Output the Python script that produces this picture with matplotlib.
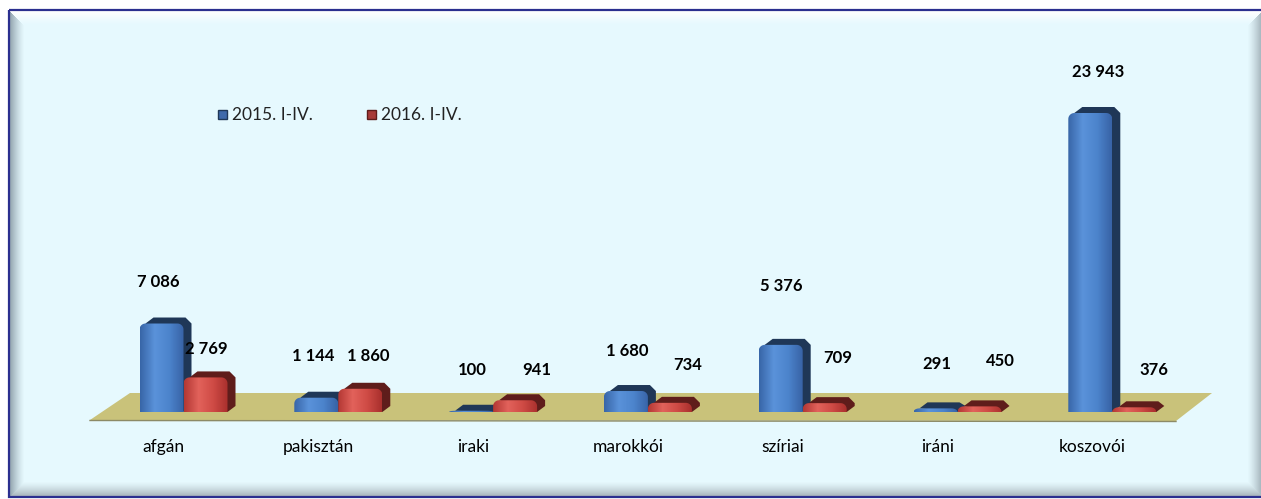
import numpy as np
import matplotlib.pyplot as plt
from matplotlib.patches import Polygon, Rectangle
from matplotlib.colors import LinearSegmentedColormap
from matplotlib.transforms import blended_transform_factory

plt.rcParams['font.family'] = ['Lato', 'DejaVu Sans']

categories = ['afgán', 'pakisztán', 'iraki', 'marokkói', 'szíriai', 'iráni', 'koszovói']
values_2015 = [7086, 1144, 100, 1680, 5376, 291, 23943]
values_2016 = [2769, 1860, 941, 734, 709, 450, 376]
series_names = ['2015. I-IV.', '2016. I-IV.']

# where the value labels sit (pixel coordinates on the canvas)
label_xy_2015 = [(158, 282), (313, 356), (472, 370), (627, 351), (781, 286), (937, 364), (1098, 72)]
label_xy_2016 = [(206, 349), (368, 356), (537, 370), (688, 365), (838, 358), (1000, 361), (1154, 370)]

W, H = 1261, 499
fig = plt.figure(figsize=(W / 100, H / 100), dpi=100)
fig.patch.set_facecolor('white')

# background canvas in pixel units
bg = fig.add_axes([0, 0, 1, 1])
bg.set_xlim(0, W)
bg.set_ylim(H, 0)
bg.axis('off')

# bevelled light cyan panel
x0p, y0p, x1p, y1p = 10, 11, 1262, 496
ny, nx = y1p - y0p, x1p - x0p
yy, xx = np.mgrid[0:ny, 0:nx]
d_top, d_bot = yy, ny - 1 - yy
d_left, d_right = xx, nx - 1 - xx
base = np.array([230, 249, 254]) / 255
img = np.tile(base, (ny, nx, 1))
bev = 14.0
edges = [(d_top, np.array([255, 255, 255]) / 255),
         (d_left, np.array([150, 168, 178]) / 255),
         (d_bot, np.array([170, 184, 190]) / 255),
         (d_right, np.array([165, 180, 188]) / 255)]
dist = np.stack([e[0] for e in edges])
nearest = dist.argmin(axis=0)
dmin = dist.min(axis=0)
k = np.clip(1 - dmin / bev, 0, 1) ** 1.3
for i, (_, col) in enumerate(edges):
    m = (nearest == i)[..., None]
    img = np.where(m, img * (1 - k[..., None]) + col * k[..., None], img)
bg.imshow(img, extent=[x0p, x1p, y1p, y0p], interpolation='bilinear', zorder=0)
bg.add_patch(Rectangle((x0p - 1, y0p - 1), nx + 2, ny + 2, fill=False,
                       edgecolor='#2B2F8F', lw=1.6, zorder=1))

# floor
floor = Polygon([(90, 420), (1176, 421), (1212, 393), (130, 393)], closed=True,
                facecolor='#C9C27A', edgecolor='none', zorder=2)
bg.add_patch(floor)
bg.plot([90, 1176], [420.5, 421.5], color='#8C8A66', lw=1.0, zorder=3)

# bar axes: category index on x, count on y
PX_X = 154.8
PX_Y = 299 / 23943
x_lo, x_hi = -0.5, 6.5
y_lo, y_hi = -1500, 28200
left_px = 183.5 + x_lo * PX_X
right_px = 183.5 + x_hi * PX_X
bot_px = 412 - y_lo * PX_Y
top_px = 412 - y_hi * PX_Y
ax = fig.add_axes([left_px / W, (H - bot_px) / H,
                   (right_px - left_px) / W, (bot_px - top_px) / H])
ax.set_facecolor('none')
ax.axis('off')

bw = 44 / PX_X
dx, dy = 8 / PX_X, 6 / PX_Y
rx, ry = 6 / PX_X, 6 / PX_Y

blue_cmap = LinearSegmentedColormap.from_list('b', ['#3866A8', '#5A92DA', '#4C84CC', '#3863A6'])
red_cmap = LinearSegmentedColormap.from_list('r', ['#B43834', '#E2625B', '#CF4B45', '#A9302D'])
grad = np.linspace(0, 1, 64).reshape(1, -1)


def draw_bar(x0, v, cmap, dark):
    r_y = min(ry, v)
    t = np.linspace(0, np.pi / 2, 10)
    left = [(x0 + rx - rx * np.cos(a), v - r_y + r_y * np.sin(a)) for a in t]
    right = [(x0 + bw - rx + rx * np.sin(a), v - r_y + r_y * np.cos(a)) for a in t]
    back = Polygon([(x0 + rx, v), (x0 + rx + dx, v + dy), (x0 + bw + dx - rx, v + dy),
                    (x0 + bw + dx, v + dy - r_y), (x0 + bw + dx, dy), (x0 + bw, 0)],
                   closed=True, facecolor=dark, edgecolor='none', zorder=3)
    ax.add_patch(back)
    front = Polygon([(x0, 0)] + left + right + [(x0 + bw, 0)], closed=True,
                    facecolor='none', edgecolor='none', zorder=4)
    ax.add_patch(front)
    im = ax.imshow(grad, cmap=cmap, extent=[x0, x0 + bw, 0, v], aspect='auto',
                   interpolation='bilinear', zorder=4)
    im.set_clip_path(front)


for i in range(len(categories)):
    draw_bar(i - bw, values_2015[i], blue_cmap, '#1F3757')
    draw_bar(i, values_2016[i], red_cmap, '#5F1D1B')

ax.set_xlim(x_lo, x_hi)
ax.set_ylim(y_lo, y_hi)

# value labels
fmt = lambda v: f'{v:,}'.replace(',', ' ')
for vals, pos in ((values_2015, label_xy_2015), (values_2016, label_xy_2016)):
    for v, (px, py) in zip(vals, pos):
        ax.text(px, py, fmt(v), transform=bg.transData, ha='center', va='center',
                fontsize=12, fontweight='bold', color='black', clip_on=False, zorder=6)

# category labels
tr = blended_transform_factory(ax.transData, bg.transData)
for i, name in enumerate(categories):
    ax.text(i - 20 / PX_X, 447, name, transform=tr, ha='center', va='center',
            fontsize=12.5, color='black', clip_on=False)

# legend
for (sx, tx), name, fc, ec in zip([(218, 232), (367, 381)], series_names,
                                  ['#3F69AA', '#A83B38'], ['#1F3757', '#5F1D1B']):
    bg.add_patch(Rectangle((sx, 110), 9, 9, facecolor=fc, edgecolor=ec, lw=1, zorder=5))
    bg.text(tx, 115, name, ha='left', va='center', fontsize=12.5, color='#222222', zorder=5)

fig.savefig('out.png', dpi=100)
